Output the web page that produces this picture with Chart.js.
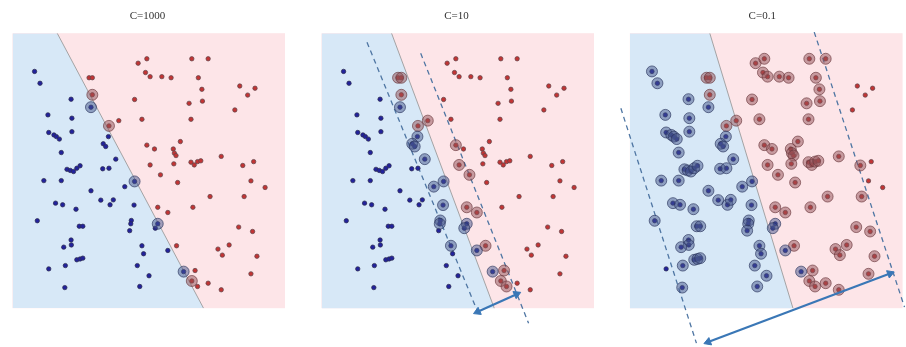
<!DOCTYPE html>
<html>
<head>
<meta charset="utf-8">
<script src="https://cdn.jsdelivr.net/npm/chart.js@4.4.1/dist/chart.umd.min.js"></script>
<style>
  body { margin: 0; background: #fff; width: 906px; height: 347px; overflow: hidden; position: relative; }
  .panel { position: absolute; top: 0; }
</style>
</head>
<body>
<div class="panel" id="p0"><canvas id="c0" width="320" height="360"></canvas></div>
<div class="panel" id="p1"><canvas id="c1" width="320" height="360"></canvas></div>
<div class="panel" id="p2"><canvas id="c2" width="320" height="360"></canvas></div>
<script>
// same two classes in every panel
var blueX = [8.1, 10.1, 21.5, 28.8, 13.0, 21.8, 13.3, 15.2, 16.1, 17.2, 21.8, 35.2, 33.3, 34.2, 17.9, 20.0, 21.2, 22.4, 23.6, 24.8,
             33.1, 35.4, 37.9, 11.5, 17.9, 28.8, 32.4, 35.8, 37.0, 41.2, 44.8, 15.8, 18.4, 23.3, 44.6, 9.1, 24.5, 25.8, 43.6, 43.4,
             43.0, 53.3, 52.4, 21.5, 21.6, 18.8, 23.6, 24.8, 25.8, 13.3, 19.4, 47.5, 48.1, 45.8, 57.0, 50.1, 46.7, 19.2, 62.8];
var blueY = [86.1, 81.8, 76.0, 73.1, 70.3, 69.1, 63.9, 63.0, 62.4, 61.5, 64.2, 62.4, 59.8, 58.8, 56.6, 50.5, 50.1, 49.7, 50.9, 51.8,
             50.7, 50.9, 54.2, 46.4, 46.4, 42.7, 39.3, 37.6, 39.4, 44.2, 46.1, 38.2, 37.6, 36.0, 37.5, 31.8, 29.8, 29.8, 31.9, 30.7,
             28.2, 30.7, 29.1, 24.8, 23.0, 22.2, 17.6, 17.9, 18.2, 14.3, 15.5, 22.7, 19.8, 15.5, 21.0, 11.8, 7.9, 7.5, 13.3];
var redX = [46.1, 49.3, 65.8, 71.8, 48.8, 50.5, 54.8, 58.2, 68.2, 28.1, 29.3, 29.3, 69.5, 83.4, 89.0, 86.3, 44.8, 64.8, 69.7, 81.6,
            35.4, 39.0, 47.5, 65.5, 61.6, 49.3, 52.1, 59.0, 59.4, 60.0, 65.5, 66.7, 67.9, 69.1, 50.5, 59.2, 76.6, 84.5, 88.5, 54.3,
            60.6, 87.5, 92.7, 72.5, 85.0, 53.3, 57.0, 66.2, 83.0, 88.1, 60.2, 79.5, 75.4, 77.0, 89.7, 67.0, 65.8, 67.9, 71.8, 76.6, 87.5];
var redY = [89.1, 90.7, 90.7, 90.7, 85.7, 84.2, 84.2, 83.8, 83.8, 83.8, 83.8, 77.6, 79.6, 80.8, 80.0, 77.5, 75.9, 74.5, 75.3, 72.1,
            66.3, 68.2, 68.7, 68.7, 60.6, 59.3, 57.9, 57.9, 56.4, 55.5, 53.1, 52.1, 53.3, 53.6, 52.1, 52.5, 55.2, 51.9, 53.3, 48.5,
            45.7, 46.3, 43.9, 40.6, 40.6, 36.7, 34.8, 36.7, 29.5, 27.9, 22.7, 23.0, 21.5, 19.3, 18.9, 13.7, 9.9, 7.9, 9.1, 6.7, 12.5];

var titles = ['C=1000', 'C=10', 'C=0.1'];
// decision line: x at the top (y=100) and at the bottom (y=0)
var boundaryTop = [16.4, 25.7, 29.3];
var boundaryBottom = [70.1, 63.4, 59.8];
// dashed margins and the width arrow
var marginLow = [null, [[16.7, 96.7], [57.5, -1.8]], [[-3.3, 72.7], [24.4, -12.7]]];
var marginHigh = [null, [[36.4, 92.7], [76.0, -5.5]], [[67.6, 100.4], [100.7, 0.4]]];
var arrows = [null, [[57.3, -1.3], [71.6, 5.1]], [[28.7, -12.3], [95.4, 12.6]]];
// support vectors (indices into the arrays above)
var svBlue1 = [3, 30, 41, 58];
var svRed1 = [11, 20, 56];
var svBlue2 = [3, 11, 12, 13, 22, 29, 30, 34, 38, 39, 41, 42, 51, 54, 58];
var svRed2 = [9, 10, 11, 20, 21, 25, 34, 39, 45, 46, 50, 55, 56, 57];
var notSvBlue3 = [49];
var notSvRed3 = [13, 14, 15, 19, 38, 41, 42];

function allBut(n, skip) {
  var out = [];
  for (var i = 0; i < n; i++) if (skip.indexOf(i) < 0) out.push(i);
  return out;
}
var svBlue = [svBlue1, svBlue2, allBut(blueX.length, notSvBlue3)];
var svRed = [svRed1, svRed2, allBut(redX.length, notSvRed3)];

// layout
var panelLeft = [10, 319, 627];
var views = [
  {xMin: 0, xMax: 100, yMin: 0, yMax: 100},
  {xMin: 0, xMax: 100, yMin: -8, yMax: 100},
  {xMin: -6, xMax: 104, yMin: -16, yMax: 100}
];
var unit = 2.75, titleH = 33.2, cw = 320, ch = 360, padL = 4;

function pts(xs, ys, idx) {
  return idx.map(function (k) { return {x: xs[k], y: ys[k]}; });
}
function seg(p) {
  return [{x: p[0][0], y: p[0][1]}, {x: p[1][0], y: p[1][1]}];
}

var panelBg = {
  id: 'panelBg',
  beforeDraw: function (chart) {
    var ctx = chart.ctx, sx = chart.scales.x, sy = chart.scales.y;
    var x0 = sx.getPixelForValue(0), x1 = sx.getPixelForValue(100);
    var y0 = sy.getPixelForValue(100), y1 = sy.getPixelForValue(0);
    ctx.save();
    ctx.fillStyle = '#fde5e8';
    ctx.fillRect(x0, y0, x1 - x0, y1 - y0);
    ctx.restore();
  }
};

function makeChart(i) {
  var v = views[i];
  var areaW = (v.xMax - v.xMin) * unit;
  var areaH = (v.yMax - v.yMin) * unit;
  var div = document.getElementById('p' + i);
  div.style.left = (panelLeft[i] + v.xMin * unit - padL) + 'px';

  var ds = [];
  ds.push({
    type: 'line',
    data: [{x: 0, y: 100}, {x: boundaryTop[i], y: 100}, {x: boundaryBottom[i], y: 0}],
    fill: {value: 0}, backgroundColor: '#d7e8f7', borderColor: 'rgba(0,0,0,0)', borderWidth: 0,
    pointRadius: 0, order: 10
  });
  ds.push({
    type: 'line',
    data: [{x: boundaryTop[i], y: 100}, {x: boundaryBottom[i], y: 0}],
    borderColor: 'rgba(150,150,150,0.85)', borderWidth: 1, pointRadius: 0, fill: false, order: 9
  });
  [marginLow[i], marginHigh[i]].forEach(function (m) {
    if (!m) return;
    ds.push({
      type: 'line', data: seg(m), borderColor: '#4f76a3', borderWidth: 1.3, borderDash: [5, 4],
      pointRadius: 0, fill: false, clip: false, order: 7
    });
  });
  ds.push({
    data: pts(blueX, blueY, allBut(blueX.length, [])),
    backgroundColor: '#22229c', borderColor: 'rgba(45,45,80,0.9)', borderWidth: 0.8, pointRadius: 2.2, order: 5
  });
  ds.push({
    data: pts(redX, redY, allBut(redX.length, [])),
    backgroundColor: '#c23434', borderColor: 'rgba(95,70,75,0.9)', borderWidth: 0.8, pointRadius: 2.2, order: 5
  });
  ds.push({
    data: pts(blueX, blueY, svBlue[i]),
    backgroundColor: 'rgba(70,85,140,0.5)', borderColor: 'rgba(40,50,90,0.65)', borderWidth: 1, pointRadius: 5.5, order: 3
  });
  ds.push({
    data: pts(redX, redY, svRed[i]),
    backgroundColor: 'rgba(145,80,85,0.5)', borderColor: 'rgba(105,55,60,0.65)', borderWidth: 1, pointRadius: 5.5, order: 3
  });
  if (arrows[i]) {
    var a = arrows[i];
    var rot = Math.atan2(a[1][0] - a[0][0], a[1][1] - a[0][1]) * 180 / Math.PI;
    ds.push({
      type: 'line', data: seg(a), borderColor: '#3a77b6', borderWidth: 2.2, fill: false, clip: false,
      pointStyle: 'triangle', pointRadius: 4.5, pointRotation: [rot + 180, rot],
      pointBackgroundColor: '#3a77b6', pointBorderColor: '#3a77b6', pointBorderWidth: 1, order: 1
    });
  }

  new Chart(document.getElementById('c' + i), {
    type: 'scatter',
    data: {datasets: ds},
    options: {
      responsive: false,
      animation: false,
      devicePixelRatio: 1,
      events: [],
      layout: {padding: {left: padL, right: cw - padL - areaW, top: 0, bottom: ch - titleH - areaH}},
      plugins: {
        legend: {display: false},
        tooltip: {enabled: false},
        title: {
          display: true, text: titles[i], color: '#333',
          font: {family: 'Liberation Serif', size: 11, weight: 'normal'},
          padding: {top: 10, bottom: 10}
        }
      },
      scales: {
        x: {type: 'linear', min: v.xMin, max: v.xMax, display: false},
        y: {type: 'linear', min: v.yMin, max: v.yMax, display: false}
      }
    },
    plugins: [panelBg]
  });
}

for (var i = 0; i < 3; i++) makeChart(i);
</script>
</body>
</html>
